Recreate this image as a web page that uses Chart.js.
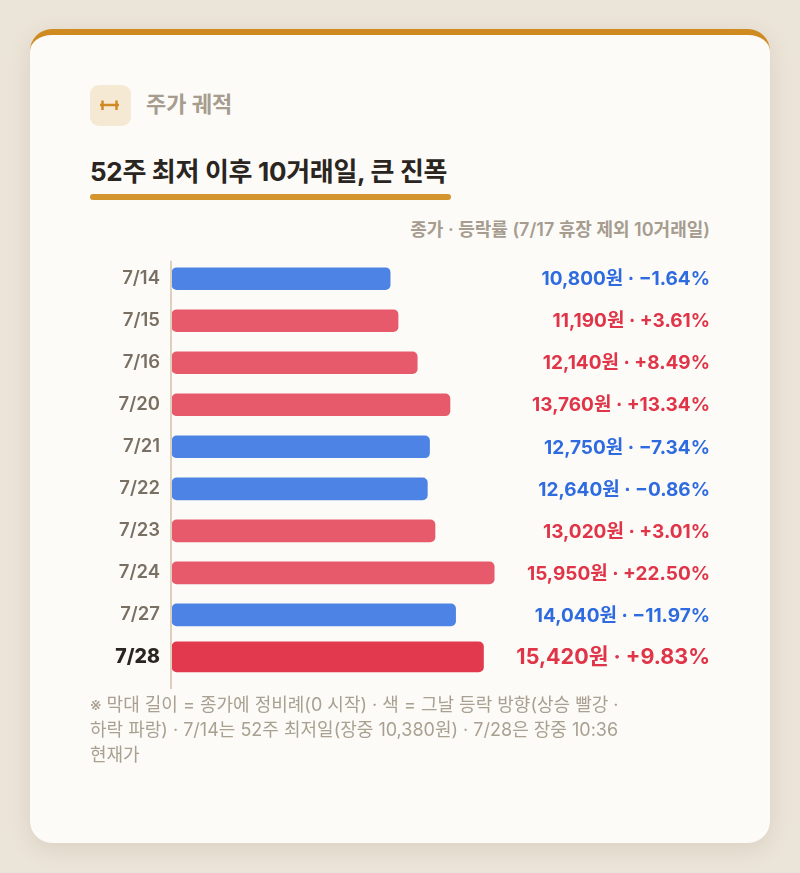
<!DOCTYPE html>
<html lang="ko">
<head>
<meta charset="utf-8">
<title>주가 궤적</title>
<script src="https://cdn.jsdelivr.net/npm/chart.js@4"></script>
<style>
  html, body { margin: 0; padding: 0; }
  body {
    width: 800px; height: 873px; background: #ebe4d8; position: relative; overflow: hidden;
    font-family: Inter, "Noto Sans CJK KR", sans-serif;
  }
  .card {
    position: absolute; left: 30px; top: 29px; width: 740px; height: 814px;
    background: #fcfbf7; border-radius: 22px; border-top: 6px solid #cf8a22;
    box-sizing: border-box;
    box-shadow: 0 6px 22px rgba(120, 100, 70, 0.14);
  }
  .icon {
    position: absolute; left: 90px; top: 85px; width: 41px; height: 41px;
    background: #f5e9d3; border-radius: 9px;
  }
  .kicker {
    position: absolute; left: 146px; top: 89px; font-size: 22px; font-weight: 700;
    color: #a69c8f; line-height: 30px;
  }
  .title {
    position: absolute; left: 90px; top: 155px; font-size: 26px; font-weight: 700;
    color: #2a2520; line-height: 34px; letter-spacing: -0.3px;
  }
  .underline {
    position: absolute; left: 90px; top: 194px; width: 361px; height: 6px;
    background: #d4952e; border-radius: 3px;
  }
  .sub {
    position: absolute; right: 90px; top: 217px; font-size: 18px; font-weight: 600;
    color: #a69c8f; line-height: 26px;
  }
  .chart-box { position: absolute; left: 90px; top: 234px; width: 620px; height: 467px; }
  .note {
    position: absolute; left: 90px; top: 692px; width: 550px; font-size: 18px;
    color: #aaa092; line-height: 25px; word-break: keep-all;
  }
</style>
</head>
<body>
<div class="card"></div>
<div class="icon">
  <svg width="41" height="41" viewBox="0 0 41 41">
    <line x1="10" y1="20" x2="29" y2="20" stroke="#d08a24" stroke-width="2.5"/>
    <line x1="12.5" y1="15.5" x2="12.5" y2="25" stroke="#d08a24" stroke-width="2.5"/>
    <line x1="26.5" y1="15.5" x2="26.5" y2="25" stroke="#d08a24" stroke-width="2.5"/>
  </svg>
</div>
<div class="kicker">주가 궤적</div>
<div class="title">52주 최저 이후 10거래일, 큰 진폭</div>
<div class="underline"></div>
<div class="sub">종가 · 등락률 (7/17 휴장 제외 10거래일)</div>
<div class="chart-box"><canvas id="priceChart"></canvas></div>
<div class="note">※ 막대 길이 = 종가에 정비례(0 시작) · 색 = 그날 등락 방향(상승 빨강 · 하락 파랑) · 7/14는 52주 최저일(장중 10,380원) · 7/28은 장중 10:36 현재가</div>

<script>
// 거래일, 종가, 등락률
var dates = ['7/14', '7/15', '7/16', '7/20', '7/21', '7/22', '7/23', '7/24', '7/27', '7/28'];
var closes = [10800, 11190, 12140, 13760, 12750, 12640, 13020, 15950, 14040, 15420];
var changes = [-1.64, 3.61, 8.49, 13.34, -7.34, -0.86, 3.01, 22.50, -11.97, 9.83];

var lastIdx = dates.length - 1;
var UP = '#e75a6b', DOWN = '#4e83e6', TODAY = '#e2394e';
var FONT = 'Inter, "Noto Sans CJK KR", sans-serif';

// 마지막 날(오늘)은 굵은 막대로 따로 그림
var pastData = closes.map(function (v, i) { return i === lastIdx ? null : v; });
var todayData = closes.map(function (v, i) { return i === lastIdx ? v : null; });

function fmtLabel(i) {
    var c = changes[i];
    var sign = c < 0 ? '\u2212' : '+';
    return closes[i].toLocaleString('en-US') + '원 · ' + sign + Math.abs(c).toFixed(2) + '%';
}

// 오른쪽 값 라벨 + 세로 기준선
var sidePlugin = {
    id: 'sideLabels',
    beforeDatasetsDraw: function (chart) {
        var c = chart.ctx, area = chart.chartArea;
        c.save();
        c.strokeStyle = '#ddd1bd';
        c.lineWidth = 2;
        c.beginPath();
        c.moveTo(area.left - 1, area.top + 3);
        c.lineTo(area.left - 1, area.bottom + 11);
        c.stroke();
        c.restore();
    },
    afterDatasetsDraw: function (chart) {
        var c = chart.ctx, y = chart.scales.y;
        c.save();
        c.textAlign = 'right';
        c.textBaseline = 'middle';
        dates.forEach(function (d, i) {
            var isLast = i === lastIdx;
            c.font = (isLast ? '700 21.5px ' : '700 19px ') + FONT;
            c.fillStyle = changes[i] < 0 ? '#2f6be0' : '#e03448';
            c.fillText(fmtLabel(i), chart.width, y.getPixelForValue(i) + 1);
        });
        c.restore();
    }
};

var ctx = document.getElementById('priceChart').getContext('2d');
var priceChart = new Chart(ctx, {
    type: 'bar',
    data: {
        labels: dates,
        datasets: [{
            data: pastData,
            backgroundColor: changes.map(function (c) { return c < 0 ? DOWN : UP; }),
            barThickness: 22,
            borderRadius: 5,
            borderSkipped: false,
            grouped: false
        }, {
            data: todayData,
            backgroundColor: TODAY,
            barThickness: 30,
            borderRadius: 5,
            borderSkipped: false,
            grouped: false
        }]
    },
    options: {
        indexAxis: 'y',
        responsive: true,
        maintainAspectRatio: false,
        animation: false,
        layout: { padding: { right: 134 } },
        plugins: {
            legend: { display: false },
            tooltip: { enabled: false }
        },
        scales: {
            x: {
                display: false,
                min: 0,
                max: 20000
            },
            y: {
                grid: { display: false, drawTicks: false },
                border: { display: false },
                afterFit: function (scale) { scale.width = 82; },
                ticks: {
                    padding: 12,
                    color: function (c) { return c.index === lastIdx ? '#2a2520' : '#7a6f63'; },
                    font: function (c) {
                        return c.index === lastIdx
                            ? { family: FONT, size: 19.5, weight: '800' }
                            : { family: FONT, size: 18.5, weight: '600' };
                    }
                }
            }
        }
    },
    plugins: [sidePlugin]
});
</script>
</body>
</html>
